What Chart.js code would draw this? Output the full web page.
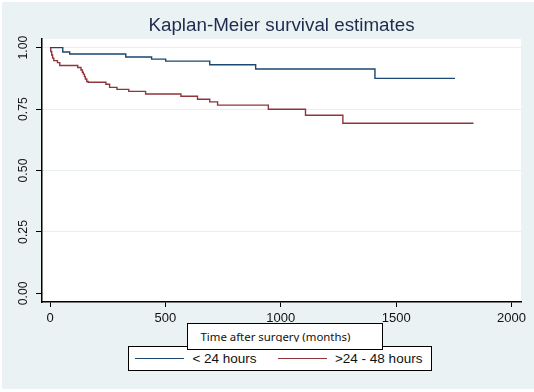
<!DOCTYPE html>
<html>
<head>
<meta charset="utf-8">
<script src="https://cdn.jsdelivr.net/npm/chart.js@4"></script>
<style>
  body { margin: 0; background: #fff; }
  #wrap { position: relative; width: 534px; height: 392px; overflow: hidden; }
  #bg { position: absolute; left: 2px; top: 2px; width: 532px; height: 387px; background: #eaf2f3; }
  #chart { position: absolute; left: 0; top: 0; }
  #legend {
    position: absolute; left: 128px; top: 346px; width: 304px; height: 25px;
    box-sizing: border-box; border: 1px solid #000; background: #fff;
    display: flex; align-items: center; padding-left: 6px; white-space: nowrap;
    font: 13.5px "Liberation Sans", Arial, sans-serif; color: #111;
  }
  #legend .item { display: flex; align-items: center; flex-shrink: 0; margin-right: 21px; }
  #legend .swatch { display: inline-block; flex-shrink: 0; width: 49px; height: 1.3px; margin-right: 8.4px; }
  #xtitle {
    position: absolute; left: 187px; top: 323px; width: 196px; height: 27px;
    box-sizing: border-box; border: 1px solid #000; background: #fff;
  }
  #xtitle .clip { position: absolute; left: 0; top: 0; right: 0; height: 18.2px; overflow: hidden; }
  #xtitle span {
    position: absolute; left: 12.5px; top: 6.3px; white-space: nowrap;
    font: 11.4px "Noto Sans", sans-serif; line-height: 14px; color: #111;
  }
</style>
</head>
<body>
<div id="wrap">
  <div id="bg"></div>
  <canvas id="chart" width="534" height="392"></canvas>
  <div id="legend"></div>
  <div id="xtitle"><div class="clip"><span id="xtitle-text"></span></div></div>
</div>
<script>
const titleText = 'Kaplan-Meier survival estimates';
const xAxisTitle = 'Time after surgery (months)';
const seriesNames = ['< 24 hours', '>24 - 48 hours'];
const seriesColors = ['#1a476f', '#90353b'];

// Kaplan-Meier steps: time of each drop and survival after it (last entry = end of follow-up)
const under24Times = [0, 55, 85, 328, 440, 501, 692, 891, 1408, 1755];
const under24Surv = [1, 0.982, 0.974, 0.962, 0.953, 0.945, 0.930, 0.913, 0.875, 0.875];

const over24Times = [0, 3, 7, 11, 16, 32, 42, 120, 134, 140, 144, 149, 153, 159, 165,
  242, 258, 290, 341, 414, 567, 639, 692, 726, 946, 1107, 1269, 1835];
const over24Surv = [1, 0.984, 0.970, 0.957, 0.947, 0.939, 0.927, 0.919, 0.909, 0.900, 0.892, 0.882, 0.872, 0.862, 0.859,
  0.851, 0.838, 0.830, 0.822, 0.811, 0.802, 0.790, 0.779, 0.766, 0.749, 0.725, 0.692, 0.692];

const xTicks = [0, 500, 1000, 1500, 2000];
const yTicks = [0, 0.25, 0.5, 0.75, 1];

Chart.defaults.font.family = '"Liberation Sans", Arial, sans-serif';

function toPoints(times, surv) {
  return times.map((t, i) => ({ x: t, y: surv[i] }));
}

// white plot region on the grey graph background
const plotBg = {
  id: 'plotBg',
  beforeDraw(chart) {
    const { ctx, chartArea: a } = chart;
    ctx.save();
    ctx.fillStyle = '#fff';
    ctx.fillRect(a.left, a.top, a.right - a.left, a.bottom - a.top);
    ctx.restore();
  }
};

const ctx = document.getElementById('chart').getContext('2d');
new Chart(ctx, {
  type: 'line',
  data: {
    datasets: [
      { label: seriesNames[0], data: toPoints(under24Times, under24Surv) },
      { label: seriesNames[1], data: toPoints(over24Times, over24Surv) }
    ].map((ds, i) => ({
      ...ds,
      borderColor: seriesColors[i],
      borderWidth: 1.4,
      stepped: 'before',
      pointRadius: 0,
      fill: false
    }))
  },
  options: {
    responsive: false,
    devicePixelRatio: 1,
    animation: false,
    layout: { padding: { left: 0, right: 13, top: 0, bottom: 60 } },
    plugins: {
      legend: { display: false },
      tooltip: { enabled: false },
      title: {
        display: true,
        text: titleText,
        fullSize: false,
        color: '#1f2b4d',
        font: { size: 18.8, weight: 'normal' },
        padding: { top: 14.6, bottom: 1.84 }
      }
    },
    scales: {
      x: {
        type: 'linear', min: -35, max: 2041,
        afterBuildTicks: s => { s.ticks = xTicks.map(v => ({ value: v })); },
        afterFit: s => { s.height = 30; },
        border: { color: '#000', width: 1.5 },
        grid: { drawOnChartArea: false, tickColor: '#000', tickLength: 5, tickWidth: 1 },
        ticks: {
          padding: 4, color: '#111', font: { size: 13 }, maxRotation: 0,
          callback: v => String(v)
        }
      },
      y: {
        type: 'linear', min: -0.035, max: 1.035,
        afterBuildTicks: s => { s.ticks = yTicks.map(v => ({ value: v })); },
        afterFit: s => { s.width = 42; },
        border: { color: '#000', width: 1.5 },
        grid: {
          color: c => (c.tick && c.tick.value === 0 ? 'rgba(0,0,0,0)' : '#e6eef0'),
          lineWidth: 1, tickColor: '#000', tickLength: 6, tickWidth: 1
        },
        ticks: {
          minRotation: 90, maxRotation: 90, crossAlign: 'center', padding: 0,
          color: '#111', font: { size: 12.3 },
          callback: v => Number(v).toFixed(2)
        }
      }
    }
  },
  plugins: [plotBg]
});

// legend box
const legend = document.getElementById('legend');
seriesNames.forEach((name, i) => {
  const item = document.createElement('span');
  item.className = 'item';
  const swatch = document.createElement('span');
  swatch.className = 'swatch';
  swatch.style.background = seriesColors[i];
  const label = document.createElement('span');
  label.textContent = name;
  item.append(swatch, label);
  legend.append(item);
});

document.getElementById('xtitle-text').textContent = xAxisTitle;
</script>
</body>
</html>
